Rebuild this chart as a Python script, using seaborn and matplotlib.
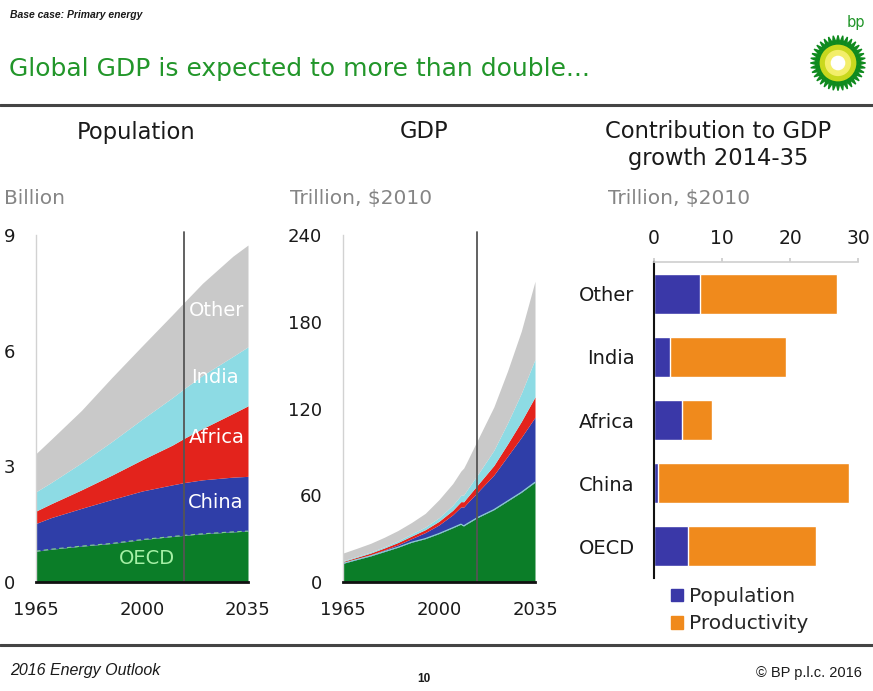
import numpy as np
import pandas as pd
import matplotlib
matplotlib.use("Agg")
import matplotlib.pyplot as plt
import seaborn as sns
from matplotlib.patches import Patch

W, H = 873, 691

# population, billion
pop_years = [1965, 1970, 1980, 1990, 2000, 2010, 2014, 2020, 2030, 2035]
pop_oecd = [0.80, 0.85, 0.93, 1.00, 1.10, 1.18, 1.21, 1.25, 1.30, 1.32]
pop_china = [0.72, 0.82, 0.98, 1.14, 1.26, 1.34, 1.37, 1.40, 1.42, 1.42]
pop_africa = [0.32, 0.36, 0.48, 0.63, 0.81, 1.03, 1.15, 1.33, 1.65, 1.83]
pop_india = [0.50, 0.55, 0.70, 0.87, 1.05, 1.23, 1.29, 1.38, 1.48, 1.53]
pop_other = [0.99, 1.12, 1.36, 1.66, 1.90, 2.15, 2.24, 2.39, 2.60, 2.64]

# GDP, trillion $2010
gdp_years = [1965, 1970, 1975, 1980, 1985, 1990, 1995, 2000, 2005, 2008, 2009, 2010,
             2014, 2020, 2025, 2030, 2035]
gdp_oecd = [12.9, 15.5, 18.0, 21.0, 24.0, 27.5, 30.0, 33.5, 37.5, 40.0, 38.8, 40.0,
            44.5, 50.0, 56.0, 62.0, 69.0]
gdp_china = [0.5, 0.6, 0.8, 1.1, 1.7, 2.5, 4.2, 6.0, 9.0, 12.0, 13.0, 14.0,
             17.5, 24.0, 31.0, 38.0, 45.0]
gdp_africa = [0.8, 1.0, 1.2, 1.4, 1.6, 1.8, 2.0, 2.5, 3.1, 3.6, 3.7, 3.9,
              5.0, 6.6, 8.5, 11.0, 14.0]
gdp_india = [0.5, 0.6, 0.7, 0.8, 1.1, 1.4, 1.8, 2.5, 3.5, 4.4, 4.7, 5.2,
             7.0, 10.5, 14.5, 19.5, 26.0]
gdp_other = [5.3, 5.6, 6.0, 6.6, 7.2, 8.0, 9.5, 12.5, 15.0, 16.8, 18.6, 19.4,
             24.0, 30.0, 36.0, 43.0, 54.0]

# contribution to GDP growth 2014-35
regions = ["Other", "India", "Africa", "China", "OECD"]
contrib_pop = [6.8, 2.4, 4.1, 0.6, 5.0]
contrib_prod = [20.1, 17.0, 4.5, 28.1, 18.8]

C_OECD, C_CHINA, C_AFRICA = "#0b7d28", "#2f3ea8", "#e3231c"
C_INDIA, C_OTHER = "#8ddbe4", "#c9c9c9"
C_POP, C_PROD = "#3a38a8", "#f08a1c"
area_cols = [C_OECD, C_CHINA, C_AFRICA, C_INDIA, C_OTHER]

sns.set_theme(style="white")
plt.rcParams["font.family"] = ["DejaVu Sans"]
NARROW = ["Liberation Sans Narrow", "Liberation Sans", "DejaVu Sans"]
DARK = "#1a1a1a"
GREY = "#858585"

fig = plt.figure(figsize=(W / 100, H / 100), dpi=100)
fig.patch.set_facecolor("white")


def fx(x):
    return x / W


def fy(y):
    return 1 - y / H


def axes_px(x0, y0, x1, y1):
    return fig.add_axes([fx(x0), fy(y1), fx(x1 - x0), (y1 - y0) / H])


# header / footer
fig.text(fx(10), fy(15), "Base case: Primary energy", fontsize=7.5, style="italic",
         weight="bold", color=DARK, va="center", family=NARROW)
fig.text(fx(9), fy(69), "Global GDP is expected to more than double...", fontsize=18,
         color="#22962a", va="center")
fig.add_artist(plt.Line2D([0, 1], [fy(105), fy(105)], color="#444444", lw=2.2))
fig.add_artist(plt.Line2D([0, 1], [fy(645), fy(645)], color="#444444", lw=2.2))
fig.text(fx(10), fy(671), "2016 Energy Outlook", fontsize=11.5, style="italic", color=DARK,
         va="center", family=NARROW)
fig.text(fx(424), fy(679), "10", fontsize=8.5, weight="bold", color=DARK, va="center",
         ha="center", family=NARROW)
fig.text(fx(862), fy(673), "\u00a9 BP p.l.c. 2016", fontsize=10.5, color=DARK, va="center",
         ha="right", family=NARROW)

# bp logo
lax = axes_px(808, 34, 868, 92)
ang = np.linspace(0, 2 * np.pi, 73)
rad = np.where(np.arange(73) % 2 == 0, 1.0, 0.74)
lax.fill(rad * np.cos(ang), rad * np.sin(ang), color="#0f8a1e")
lax.add_patch(plt.Circle((0, 0), 0.64, color="#c9d81e"))
lax.add_patch(plt.Circle((0, 0), 0.45, color="#f3ee6a"))
lax.add_patch(plt.Circle((0, 0), 0.24, color="#ffffff"))
lax.set_xlim(-1.05, 1.05)
lax.set_ylim(-1.05, 1.05)
lax.set_aspect("equal")
lax.axis("off")
fig.text(fx(856), fy(23), "bp", fontsize=10.5, color="#22962a", ha="center", va="center")

# panel titles
fig.text(fx(136), fy(132), "Population", fontsize=16.3, color=DARK, ha="center", va="center")
fig.text(fx(424), fy(132), "GDP", fontsize=16.3, color=DARK, ha="center", va="center")
fig.text(fx(718), fy(145), "Contribution to GDP\ngrowth 2014-35", fontsize=16.3, color=DARK,
         ha="center", va="center", linespacing=1.2)
fig.text(fx(4), fy(199), "Billion", fontsize=14.5, color=GREY, va="center")
fig.text(fx(290), fy(199), "Trillion, $2010", fontsize=14.5, color=GREY, va="center")
fig.text(fx(608), fy(199), "Trillion, $2010", fontsize=14.5, color=GREY, va="center")


def style_area(ax, ymax, yticks):
    ax.set_xlim(1965, 2035)
    ax.set_ylim(0, ymax)
    ax.set_xticks([1965, 2000, 2035])
    ax.set_yticks(yticks)
    ax.tick_params(axis="both", length=0, labelsize=13, colors=DARK)
    ax.tick_params(axis="y", pad=15)
    ax.tick_params(axis="x", pad=14)
    for s in ["top", "right"]:
        ax.spines[s].set_visible(False)
    ax.spines["left"].set_color("#d2d2d2")
    ax.spines["left"].set_linewidth(1)
    ax.spines["bottom"].set_color("#111111")
    ax.spines["bottom"].set_linewidth(2)
    ax.spines["bottom"].set_zorder(5)
    ax.axvline(2014, color="#555555", lw=1.3, zorder=4, ymax=1.01, clip_on=False)
    ax.set_facecolor("white")


# population area chart
ax1 = axes_px(36, 235, 248, 582)
ax1.stackplot(pop_years, pop_oecd, pop_china, pop_africa, pop_india, pop_other,
              colors=area_cols, lw=0)
ax1.plot(pop_years, pop_oecd, color="#7fd08a", lw=0.8, ls=(0, (4, 3)))
style_area(ax1, 9, [0, 3, 6, 9])
for lbl, x, y, c in [("Other", 2024.6, 7.05, "white"), ("India", 2024.2, 5.3, "white"),
                     ("Africa", 2024.6, 3.75, "white"), ("China", 2024.4, 2.05, "white"),
                     ("OECD", 2001.7, 0.6, "#a6f0a6")]:
    ax1.text(x, y, lbl, color=c, fontsize=14, ha="center", va="center", zorder=6)

# GDP area chart
ax2 = axes_px(343, 235, 535, 582)
ax2.stackplot(gdp_years, gdp_oecd, gdp_china, gdp_africa, gdp_india, gdp_other,
              colors=area_cols, lw=0)
ax2.plot(gdp_years, gdp_oecd, color="#8fd8d0", lw=0.8)
style_area(ax2, 240, [0, 60, 120, 180, 240])

# contribution bar chart
df = pd.DataFrame({"region": regions, "Population": contrib_pop, "Productivity": contrib_prod})
df["total"] = df["Population"] + df["Productivity"]
ax3 = axes_px(654, 262, 858, 578)
sns.barplot(data=df, y="region", x="total", color=C_PROD, saturation=1, width=0.63,
            orient="h", ax=ax3)
sns.barplot(data=df, y="region", x="Population", color=C_POP, saturation=1, width=0.63,
            orient="h", ax=ax3)
ax3.set_xlim(0, 30)
ax3.set_xticks([0, 10, 20, 30])
ax3.set_xlabel("")
ax3.set_ylabel("")
ax3.xaxis.tick_top()
ax3.tick_params(axis="x", length=3, color="#cccccc", labelsize=13.5, colors=DARK, pad=7)
ax3.tick_params(axis="x", which="both", color="#cccccc")
ax3.tick_params(axis="y", length=0, labelsize=14, colors=DARK, pad=14)
for s in ["bottom", "right"]:
    ax3.spines[s].set_visible(False)
ax3.spines["top"].set_color("#d0d0d0")
ax3.spines["left"].set_color("#111111")
ax3.spines["left"].set_linewidth(1.5)

handles = [Patch(color=C_POP, label="Population"), Patch(color=C_PROD, label="Productivity")]
fig.legend(handles=handles, loc="upper left", bbox_to_anchor=(fx(671), fy(587)), frameon=False,
           fontsize=14.5, handlelength=0.6, handleheight=0.6, handletextpad=0.3,
           labelspacing=0.42, borderaxespad=0, borderpad=0)

fig.savefig("out.png", dpi=100, facecolor="white")
